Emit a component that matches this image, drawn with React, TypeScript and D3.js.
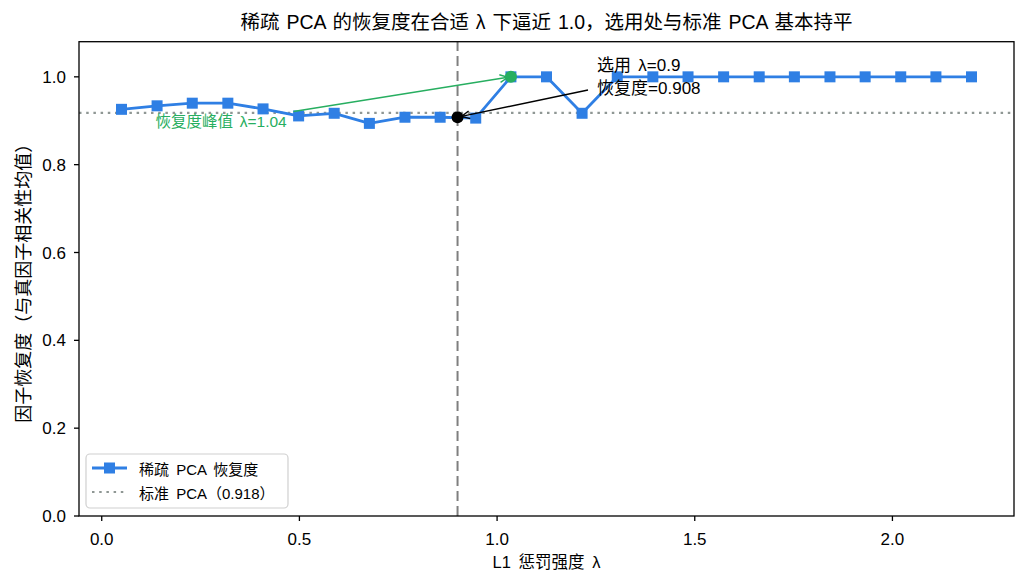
import { useEffect } from "react";
import * as d3 from "d3";

// L1 penalty strength (x) and sparse PCA recovery (y)
const lambdas = [
  0.05, 0.14, 0.229, 0.319, 0.408, 0.498, 0.588, 0.677, 0.767, 0.856, 0.946, 1.035, 1.125,
  1.215, 1.304, 1.394, 1.483, 1.573, 1.663, 1.752, 1.842, 1.931, 2.021, 2.11, 2.2,
];
const recovery = [
  0.926, 0.934, 0.94, 0.94, 0.927, 0.911, 0.917, 0.894, 0.908, 0.908, 0.906, 1.0, 1.0,
  0.917, 1.0, 1.0, 1.0, 1.0, 1.0, 1.0, 1.0, 1.0, 1.0, 1.0, 1.0,
];
const standardPca = 0.918;
const chosenLambda = 0.9;
const chosenRecovery = 0.908;
const peakIndex = 11;

const xTicks = [0.0, 0.5, 1.0, 1.5, 2.0];
const yTicks = [0.0, 0.2, 0.4, 0.6, 0.8, 1.0];

const W = 1027;
const H = 585;
const margin = { left: 79, right: 13, top: 41.7, bottom: 69 };
const FONT = '"Liberation Sans", "Noto Sans CJK SC", sans-serif';
const BLUE = "#2f7fe4";
const GREEN = "#27ae60";

export default function App() {
  useEffect(() => {
    document.body.style.margin = "0";
  }, []);

  const x = d3.scaleLinear().domain([-0.0575, 2.3075]).range([margin.left, W - margin.right]);
  const y = d3.scaleLinear().domain([0, 1.08]).range([H - margin.bottom, margin.top]);

  const line = d3
    .line<number>()
    .x((_, i) => x(lambdas[i]))
    .y((d) => y(d));

  const x0 = margin.left;
  const x1 = W - margin.right;
  const y0 = H - margin.bottom;
  const y1 = margin.top;

  // shortened arrow end so the head stops at the marker edge
  const arrow = (sx: number, sy: number, tx: number, ty: number, shrink: number) => {
    const dx = tx - sx;
    const dy = ty - sy;
    const len = Math.hypot(dx, dy);
    const ex = tx - (dx / len) * shrink;
    const ey = ty - (dy / len) * shrink;
    const ang = Math.atan2(dy, dx);
    const hl = 9;
    const ha = 0.45;
    const head = `M${ex - hl * Math.cos(ang - ha)},${ey - hl * Math.sin(ang - ha)} L${ex},${ey} L${ex - hl * Math.cos(ang + ha)},${ey - hl * Math.sin(ang + ha)}`;
    return { body: `M${sx},${sy} L${ex},${ey}`, head };
  };

  const greenArrow = arrow(x(0.485), y(0.921), x(lambdas[peakIndex]), y(recovery[peakIndex]), 3);
  const blackArrow = arrow(x(1.23), y(0.97), x(chosenLambda), y(chosenRecovery), 4);

  return (
    <svg width={W} height={H} style={{ display: "block", background: "#fff" }} fontFamily={FONT}>
      <defs>
        <clipPath id="plot">
          <rect x={x0} y={y1} width={x1 - x0} height={y0 - y1} />
        </clipPath>
      </defs>

      <text x={(x0 + x1) / 2} y={29} textAnchor="middle" fontSize={19.5} wordSpacing={1.5}>
        稀疏 PCA 的恢复度在合适 λ 下逼近 1.0，选用处与标准 PCA 基本持平
      </text>

      <g clipPath="url(#plot)">
        <line x1={x0} x2={x1} y1={y(standardPca)} y2={y(standardPca)} stroke="#8f9794" strokeWidth={2.2} strokeDasharray="2.5,4.7" />
        <line x1={x(chosenLambda)} x2={x(chosenLambda)} y1={y0} y2={y1} stroke="#7f7f7f" strokeWidth={2} strokeDasharray="10,5" />
        <path d={line(recovery) ?? ""} fill="none" stroke={BLUE} strokeWidth={2.8} strokeLinejoin="round" />
        {recovery.map((d, i) => (
          <rect key={i} x={x(lambdas[i]) - 5.5} y={y(d) - 5.5} width={11} height={11} fill={BLUE} />
        ))}
        <circle cx={x(lambdas[peakIndex])} cy={y(recovery[peakIndex])} r={6} fill={GREEN} />
        <circle cx={x(chosenLambda)} cy={y(chosenRecovery)} r={6} fill="#000" />
      </g>

      {/* annotations */}
      <path d={greenArrow.body} stroke={GREEN} strokeWidth={1.4} fill="none" />
      <path d={greenArrow.head} stroke={GREEN} strokeWidth={1.4} fill="none" />
      <text x={x(0.468)} y={y(0.886)} textAnchor="end" fontSize={15.5} wordSpacing={2.5} fill={GREEN}>
        恢复度峰值 λ=1.04
      </text>

      <path d={blackArrow.body} stroke="#000" strokeWidth={1.4} fill="none" />
      <path d={blackArrow.head} stroke="#000" strokeWidth={1.4} fill="none" />
      <text x={x(1.253)} y={y(1.013)} fontSize={17} wordSpacing={2.5}>
        选用 λ=0.9
      </text>
      <text x={x(1.253)} y={y(0.96)} fontSize={17}>
        恢复度=0.908
      </text>

      {/* axes frame */}
      <rect x={x0} y={y1} width={x1 - x0} height={y0 - y1} fill="none" stroke="#000" strokeWidth={1.3} />

      {xTicks.map((t) => (
        <g key={t}>
          <line x1={x(t)} x2={x(t)} y1={y0} y2={y0 + 5} stroke="#000" strokeWidth={1.3} />
          <text x={x(t)} y={544.5} textAnchor="middle" fontSize={17}>
            {t.toFixed(1)}
          </text>
        </g>
      ))}
      {yTicks.map((t) => (
        <g key={t}>
          <line x1={x0 - 5} x2={x0} y1={y(t)} y2={y(t)} stroke="#000" strokeWidth={1.3} />
          <text x={66} y={y(t) + 6} textAnchor="end" fontSize={17}>
            {t.toFixed(1)}
          </text>
        </g>
      ))}

      <text x={(x0 + x1) / 2} y={568} textAnchor="middle" fontSize={16.5} wordSpacing={3}>
        L1 惩罚强度 λ
      </text>
      <text transform={`translate(30,${(y0 + y1) / 2}) rotate(-90)`} textAnchor="middle" fontSize={18}>
        因子恢复度（与真因子相关性均值）
      </text>

      {/* legend */}
      <g>
        <rect x={86} y={454} width={202} height={54} rx={4} fill="#fff" fillOpacity={0.8} stroke="#d0d0d0" strokeWidth={1.2} />
        <line x1={92} x2={127} y1={468} y2={468} stroke={BLUE} strokeWidth={2.8} />
        <rect x={104} y={462.5} width={11} height={11} fill={BLUE} />
        <text x={139} y={474.5} fontSize={15} wordSpacing={3}>
          稀疏 PCA 恢复度
        </text>
        <line x1={92} x2={127} y1={492} y2={492} stroke="#8f9794" strokeWidth={2.2} strokeDasharray="2.5,4.7" />
        <text x={139} y={498.5} fontSize={15} wordSpacing={3}>
          标准 PCA（0.918）
        </text>
      </g>
    </svg>
  );
}
